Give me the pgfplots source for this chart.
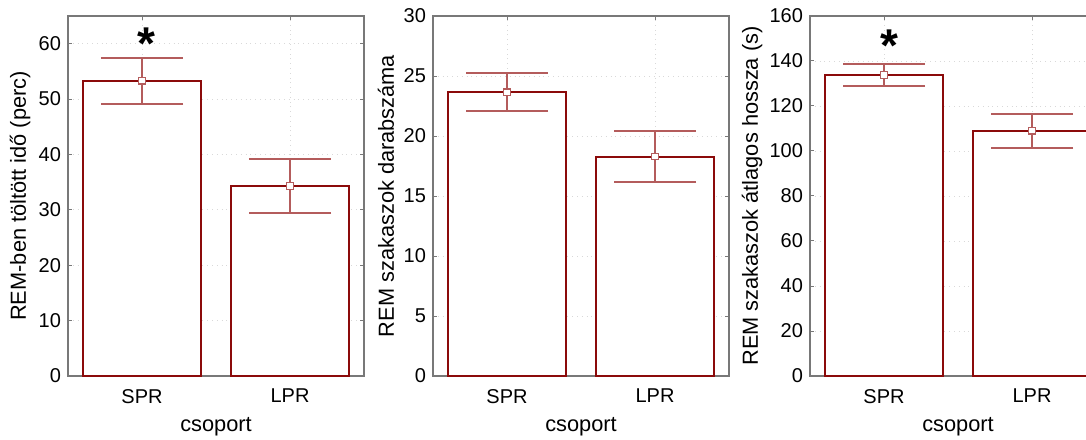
\documentclass[border=0pt]{standalone}
\usepackage{fontspec}
\setmainfont{Liberation Sans}
\usepackage{pgfplots}
\pgfplotsset{compat=1.18}
\definecolor{barcol}{RGB}{139,10,10}
\definecolor{errcol}{RGB}{180,92,92}
\definecolor{axcol}{RGB}{120,120,120}
\pgfplotsset{
  remaxis/.style={
    scale only axis, width=148pt, height=180pt,
    xmin=-0.5, xmax=1.5, ymin=0,
    xtick={0,1}, xticklabels={SPR,LPR},
    xlabel={csoport},
    grid=major, major grid style={dotted, gray!30, line width=0.4pt},
    tick align=inside, major tick length=2pt,
    tick style={axcol, line width=0.5pt},
    axis line style={axcol, line width=0.6pt},
    tick label style={font=\fontsize{10}{12}\selectfont},
    label style={font=\fontsize{10.9}{13}\selectfont},
    /pgf/number format/assume math mode=true,
    xticklabel style={yshift=-3pt},
    xlabel style={at={(axis description cs:0.5,0)}, anchor=center, yshift=-25.5pt},
    clip=false,
  },
  rembar/.style={ybar, bar width=0.8, draw=barcol, fill=white, line width=1pt,
    error bars/.cd, y dir=both, y explicit,
    error bar style={errcol, line width=1pt},
    error mark options={rotate=90, errcol, line width=1pt, mark size=20.5pt}},
  remmark/.style={only marks, mark=square*, mark size=1.6pt,
    mark options={draw=errcol, fill=white, line width=0.6pt}},
}
\begin{document}
\begin{tikzpicture}
\useasboundingbox (0,0) rectangle (543pt,219.5pt);
\clip (0,0) rectangle (543pt,219.5pt);

% panel 1: REM time
\begin{axis}[remaxis, at={(34pt,31.5pt)}, ymax=65, ytick={0,10,...,60},
  ylabel={REM-ben töltött idő (perc)},
  ylabel style={at={(axis description cs:-0.162,0.5)}, anchor=center}]
\addplot[rembar] coordinates {(0,53.3) +- (0,4.15) (1,34.3) +- (0,4.9)};
\addplot[remmark] coordinates {(0,53.3) (1,34.3)};
\node[anchor=north, inner sep=0pt, font=\fontsize{23}{24}\selectfont\bfseries] at (axis cs:0.03,62.9) {*};
\end{axis}

% panel 2: number of REM periods
\begin{axis}[remaxis, at={(216.5pt,31.5pt)}, ymax=30, ytick={0,5,...,30},
  ylabel={REM szakaszok darabszáma},
  ylabel style={at={(axis description cs:-0.159,0.5)}, anchor=center}]
\addplot[rembar] coordinates {(0,23.65) +- (0,1.6) (1,18.28) +- (0,2.15)};
\addplot[remmark] coordinates {(0,23.65) (1,18.28)};
\end{axis}

% panel 3: mean length of REM periods
\begin{axis}[remaxis, at={(405pt,31.5pt)}, ymax=160, ytick={0,20,...,160},
  ylabel={REM szakaszok átlagos hossza (s)},
  ylabel style={at={(axis description cs:-0.196,0.5)}, anchor=center}]
\addplot[rembar] coordinates {(0,133.8) +- (0,4.9) (1,109.0) +- (0,7.6)};
\addplot[remmark] coordinates {(0,133.8) (1,109.0)};
\node[anchor=north, inner sep=0pt, font=\fontsize{23}{24}\selectfont\bfseries] at (axis cs:0.04,153.8) {*};
\end{axis}
\end{tikzpicture}
\end{document}
